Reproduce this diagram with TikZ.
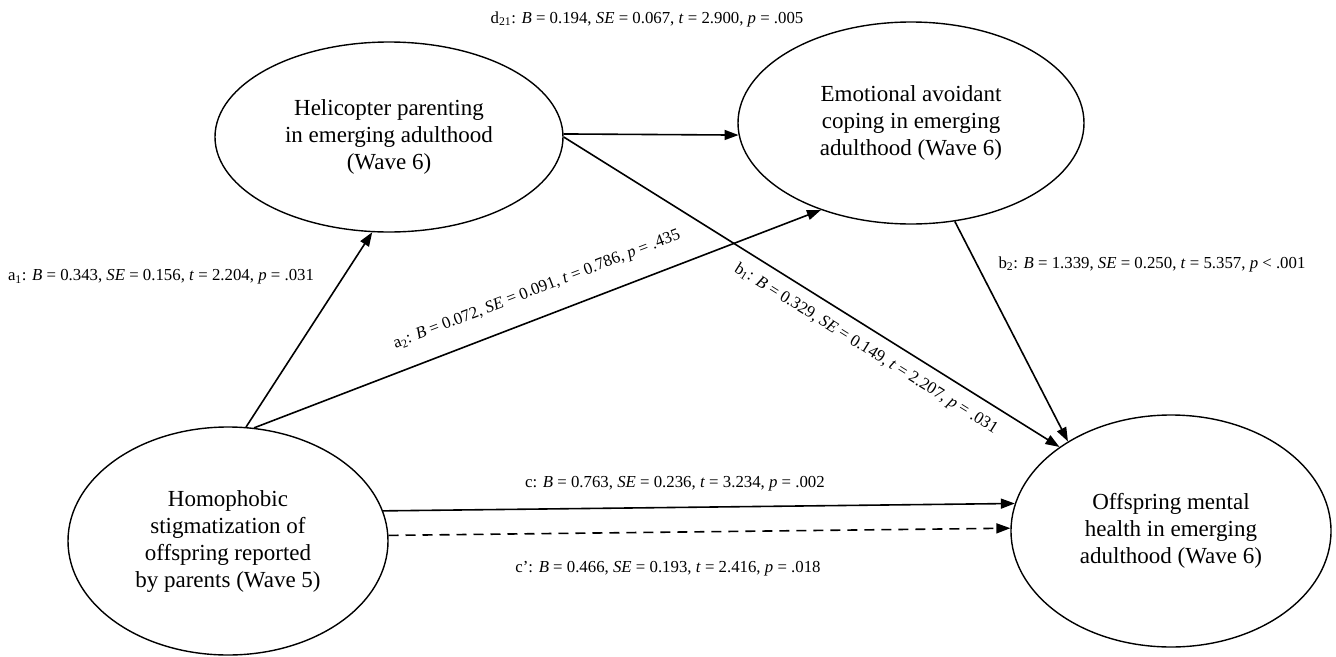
\documentclass[tikz,border=0pt]{standalone}
\usepackage{fontspec}
\setmainfont{Liberation Serif}
\usetikzlibrary{shapes.geometric,arrows.meta}
\begin{document}
\begin{tikzpicture}[x=1pt,y=-1pt,
  latent/.style={ellipse,draw,line width=1.4pt,inner sep=0pt,align=center,
    font=\fontsize{23}{27}\selectfont},
  pathline/.style={line width=1.6pt,-{Triangle[length=14pt,width=10pt]}},
  dashline/.style={pathline,dash pattern=on 10pt off 7pt},
  lbl/.style={font=\fontsize{16.8}{20}\selectfont,inner sep=0pt}]
\useasboundingbox (0,0) rectangle (1336,656);

\node[latent,minimum width=348pt,minimum height=190pt] (heli) at (389,137)
  {Helicopter parenting\\in emerging adulthood\\(Wave 6)};
\node[latent,minimum width=346pt,minimum height=202pt] (emo) at (911,123)
  {Emotional avoidant\\coping in emerging\\adulthood (Wave 6)};
\node[latent,minimum width=320pt,minimum height=228pt] (home) at (228,541)
  {Homophobic\\stigmatization of\\offspring reported\\by parents (Wave 5)};
\node[latent,minimum width=320pt,minimum height=232pt] (off) at (1171,531)
  {Offspring mental\\health in emerging\\adulthood (Wave 6)};

\draw[pathline] (home.81) -- (heli.260);
\draw[pathline] (home.77) -- (emo.224);
\draw[pathline] (heli.1) -- (emo.184);
\draw[pathline] (heli.east) -- (off.143);
\draw[pathline] (emo.294) -- (off.139);
\draw[pathline] (home.11) -- (off.170);
\draw[dashline] (home.2) -- (off.179);

\node[lbl] (ld) at (647,19) {d\textsubscript{21}: \textit{B} = 0.194, \textit{SE} = 0.067, \textit{t} = 2.900, \textit{p} = .005};
\node[lbl] (la1) at (161,277) {a\textsubscript{1}: \textit{B} = 0.343, \textit{SE} = 0.156, \textit{t} = 2.204, \textit{p} = .031};
\node[lbl,rotate=21] (la2) at (537,290) {a\textsubscript{2}: \textit{B} = 0.072, \textit{SE} = 0.091,\ \textit{t} = 0.786,\ \textit{p} = .435};
\node[lbl,rotate=-32] (lb1) at (866,349) {b\textsubscript{1}: \textit{B} = 0.329, \textit{SE} = 0.149, \textit{t} = 2.207, \textit{p} = .031};
\node[lbl] (lb2) at (1152,264) {b\textsubscript{2}: \textit{B} = 1.339, \textit{SE} = 0.250, \textit{t} = 5.357, \textit{p} < .001};
\node[lbl] (lc) at (675,484) {c: \textit{B} = 0.763, \textit{SE} = 0.236, \textit{t} = 3.234, \textit{p} = .002};
\node[lbl] (lcp) at (668,569) {c’: \textit{B} = 0.466, \textit{SE} = 0.193, \textit{t} = 2.416, \textit{p} = .018};
\end{tikzpicture}
\end{document}
